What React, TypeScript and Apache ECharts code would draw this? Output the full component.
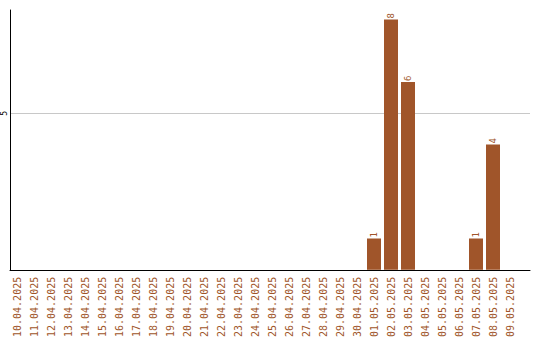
import React, { useEffect, useRef } from "react";
import * as echarts from "echarts";

const dates = [
  "10.04.2025", "11.04.2025", "12.04.2025", "13.04.2025", "14.04.2025",
  "15.04.2025", "16.04.2025", "17.04.2025", "18.04.2025", "19.04.2025",
  "20.04.2025", "21.04.2025", "22.04.2025", "23.04.2025", "24.04.2025",
  "25.04.2025", "26.04.2025", "27.04.2025", "28.04.2025", "29.04.2025",
  "30.04.2025", "01.05.2025", "02.05.2025", "03.05.2025", "04.05.2025",
  "05.05.2025", "06.05.2025", "07.05.2025", "08.05.2025", "09.05.2025",
];

const counts: (number | null)[] = [
  null, null, null, null, null,
  null, null, null, null, null,
  null, null, null, null, null,
  null, null, null, null, null,
  null, 1, 8, 6, null,
  null, null, 1, 4, null,
];

const yMax = 8.3;
const yTickStep = 5;

const BROWN = "#A0552A";
const FONT = "DejaVu Sans Mono";

export default function App() {
  const ref = useRef<HTMLDivElement>(null);

  useEffect(() => {
    if (!ref.current) return;
    const chart = echarts.init(ref.current, null, { renderer: "svg" });
    chart.setOption({
      animation: false,
      grid: [
        // frame: axis lines, the "5" tick label and its grid line
        { left: 10, right: 10, top: 10, bottom: 70 },
        // bar area: category bands
        { left: 8.5, right: 21.5, top: 10, bottom: 70 },
      ],
      xAxis: [
        {
          gridIndex: 0,
          type: "value",
          min: 0,
          max: 1,
          axisLine: { show: true, onZero: false, lineStyle: { color: "#000", width: 1 } },
          axisTick: { show: false },
          axisLabel: { show: false },
          splitLine: { show: false },
        },
        {
          gridIndex: 1,
          type: "category",
          data: dates,
          axisLine: { show: false },
          axisTick: { show: false },
          axisLabel: {
            rotate: 90,
            interval: 0,
            color: BROWN,
            fontFamily: FONT,
            fontSize: 10,
            margin: 7,
          },
        },
      ],
      yAxis: [
        {
          gridIndex: 0,
          type: "value",
          min: 0,
          max: yMax,
          interval: yTickStep,
          axisLine: { show: true, lineStyle: { color: "#000", width: 1 } },
          axisTick: { show: false },
          splitLine: {
            show: true,
            showMinLine: false,
            showMaxLine: false,
            lineStyle: { color: "#c8c8c8", width: 1 },
          },
          axisLabel: {
            rotate: 90,
            color: "#000",
            fontFamily: FONT,
            fontSize: 8,
            margin: 2,
            showMinLabel: false,
            showMaxLabel: false,
            formatter: (v: number) => (v === yTickStep ? String(v) : ""),
          },
        },
        {
          gridIndex: 1,
          type: "value",
          min: 0,
          max: yMax,
          show: false,
          splitLine: { show: false },
        },
      ],
      series: [
        {
          type: "bar",
          xAxisIndex: 1,
          yAxisIndex: 1,
          data: counts,
          barWidth: 14,
          itemStyle: { color: BROWN },
          label: {
            show: true,
            position: "top",
            rotate: 90,
            align: "left",
            verticalAlign: "middle",
            distance: 1,
            color: BROWN,
            fontFamily: FONT,
            fontSize: 9,
          },
        },
      ],
    });
    return () => chart.dispose();
  }, []);

  return (
    <div
      ref={ref}
      style={{ position: "absolute", left: 0, top: 0, width: 540, height: 340 }}
    />
  );
}
